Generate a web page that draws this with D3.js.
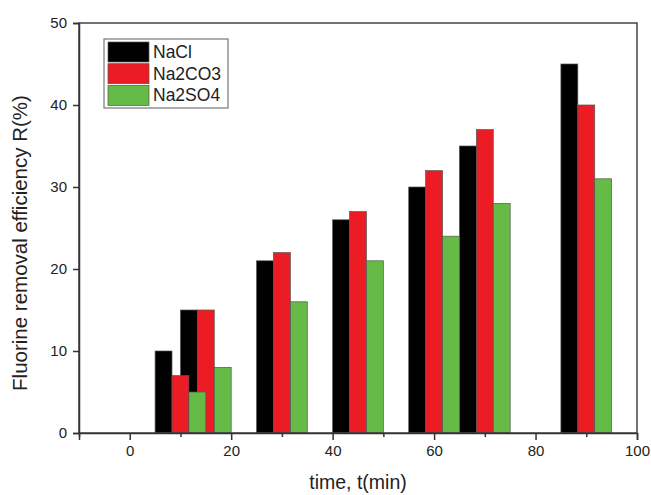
<!DOCTYPE html>
<html>
<head>
<meta charset="utf-8">
<script src="https://cdn.jsdelivr.net/npm/d3@7"></script>
<style>
  body { margin: 0; background: #fff; }
  text { font-family: Arial, 'Liberation Sans', sans-serif; fill: #222; }
</style>
</head>
<body>
<div id="chart"></div>
<script>
const times = [10, 15, 30, 45, 60, 70, 90]
const seriesNames = ['NaCl', 'Na2CO3', 'Na2SO4']
const nacl = [10, 15, 21, 26, 30, 35, 45]
const na2co3 = [7, 15, 22, 27, 32, 37, 40]
const na2so4 = [5, 8, 16, 21, 24, 28, 31]
const xTicks = [0, 20, 40, 60, 80, 100]
const xMinorTicks = [-10, 10, 30, 50, 70, 90]
const yTicks = [0, 10, 20, 30, 40, 50]

const colors = ['#000000', '#ec1c24', '#66bb46']
const series = [nacl, na2co3, na2so4]

const margin = { top: 23, left: 79, right: 14, bottom: 62 }
const width = 651 - margin.left - margin.right
const height = 495 - margin.top - margin.bottom

const svg = d3
  .select('#chart')
  .append('svg')
  .attr('width', 651)
  .attr('height', 495)
  .append('g')
  .attr('transform', 'translate(' + margin.left + ',' + margin.top + ')')

const x = d3.scaleLinear().domain([-10, 100]).range([0, width])
const y = d3.scaleLinear().domain([0, 50]).range([height, 0])

// each bar is a third of a 10 min slot
const barW = 10 / 3

series.forEach(function(values, s) {
  svg
    .append('g')
    .selectAll('rect')
    .data(values)
    .enter()
    .append('rect')
    .attr('x', (d, i) => x(times[i] + (s - 1.5) * barW))
    .attr('width', x(barW) - x(0))
    .attr('y', d => y(d))
    .attr('height', d => y(0) - y(d))
    .attr('fill', colors[s])
    .attr('stroke', '#555')
    .attr('stroke-width', 0.7)
})

// frame
svg
  .append('rect')
  .attr('width', width)
  .attr('height', height)
  .attr('fill', 'none')
  .attr('stroke', '#444')
  .attr('stroke-width', 1.5)

svg
  .append('g')
  .attr('transform', 'translate(0,' + height + ')')
  .call(d3.axisBottom(x).tickValues(xTicks).tickSize(7).tickPadding(5))
svg
  .append('g')
  .attr('transform', 'translate(0,' + height + ')')
  .call(d3.axisBottom(x).tickValues(xMinorTicks).tickSize(4).tickFormat(''))
  .call(g => g.select('.domain').remove())

svg
  .append('g')
  .call(d3.axisLeft(y).tickValues(yTicks).tickSize(6).tickPadding(6))

svg.selectAll('.domain').attr('stroke', '#333').attr('stroke-width', 1.5)
svg.selectAll('.tick line').attr('stroke', '#333').attr('stroke-width', 1.5)
svg.selectAll('.tick text').style('font-size', '15px').attr('fill', '#222')

svg
  .append('text')
  .text('time, t(min)')
  .attr('x', width / 2)
  .attr('y', height + 56)
  .attr('text-anchor', 'middle')
  .style('font-size', '19.5px')

svg
  .append('text')
  .text('Fluorine removal efficiency R(%)')
  .attr('transform', 'translate(' + (27 - margin.left) + ',' + (243 - margin.top) + ') rotate(-90)')
  .attr('text-anchor', 'middle')
  .style('font-size', '20.5px')

// legend
const legend = svg.append('g').attr('transform', 'translate(' + (104 - margin.left) + ',' + (39 - margin.top) + ')')
legend
  .append('rect')
  .attr('width', 124)
  .attr('height', 69)
  .attr('fill', '#fff')
  .attr('stroke', '#777')
  .attr('stroke-width', 1.2)

seriesNames.forEach(function(name, i) {
  legend
    .append('rect')
    .attr('x', 4)
    .attr('y', 3 + i * 21.7)
    .attr('width', 41)
    .attr('height', 20)
    .attr('fill', colors[i])
    .attr('stroke', '#555')
    .attr('stroke-width', 0.7)
  legend
    .append('text')
    .text(name)
    .attr('x', 49)
    .attr('y', 19 + i * 21.7)
    .style('font-size', '17.5px')
})
</script>
</body>
</html>
